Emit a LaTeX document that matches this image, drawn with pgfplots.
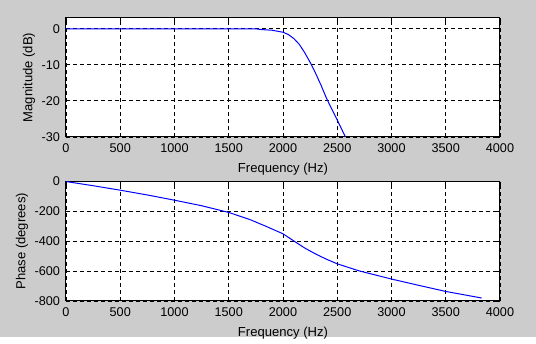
\documentclass[border=0pt]{standalone}
\usepackage{fontspec}
\setmainfont{Liberation Sans}
\usepackage{pgfplots}
\pgfplotsset{compat=1.18}
\definecolor{figbg}{RGB}{204,204,204}
\definecolor{mblue}{RGB}{0,0,255}
\pgfplotsset{
  mstyle/.style={
    scale only axis,
    width=325.5pt,
    xmin=0, xmax=4000,
    xtick={0,500,...,4000},
    axis background/.style={fill=white},
    axis line style={black, line width=0.75pt},
    grid=major,
    major grid style={black, line width=0.7pt, dash pattern=on 3pt off 2.25pt},
    tick align=inside,
    major tick length=3pt,
    tick style={black, line width=0.7pt},
    /pgf/number format/assume math mode=true,
    /pgf/number format/1000 sep={},
    tick label style={font=\fontsize{9.5}{10}\selectfont},
    label style={font=\fontsize{9.8}{11}\selectfont},
    xticklabel style={yshift=-1.5pt},
    yticklabel style={xshift=-1pt},
    xlabel style={yshift=-1pt},
    ylabel style={yshift=-2pt},
    clip=true,
  }
}
\begin{document}
\begin{tikzpicture}
\fill[figbg] (0pt,0pt) rectangle (402pt,252.75pt);
\begin{axis}[mstyle,
  at={(49.5pt,239.25pt)}, anchor=north west,
  height=89.25pt,
  ymin=-30, ymax=3,
  ytick={-30,-20,-10,0},
  xlabel={Frequency (Hz)},
  ylabel={Magnitude (dB)},
]
\addplot[mblue, line width=0.75pt] coordinates {
(0,0) (1000,0) (1750,0) (1800,-0.2) (1900,-0.4) (2000,-0.95) (2050,-1.6)
(2100,-2.7) (2150,-4.3) (2200,-6.6) (2250,-9.3) (2300,-12.3) (2350,-15.6)
(2400,-19.2) (2450,-22.3) (2500,-25.3) (2550,-28.4) (2600,-31.5) (2650,-34.6)
};
\end{axis}
\begin{axis}[mstyle,
  at={(49.5pt,116.6pt)}, anchor=north west,
  height=89.6pt,
  ymin=-800, ymax=0,
  ytick={-800,-600,-400,-200,0},
  xlabel={Frequency (Hz)},
  ylabel={Phase (degrees)},
]
\addplot[mblue, line width=0.75pt] coordinates {
(0,0) (250,-28) (500,-58) (750,-90) (1000,-125) (1250,-162) (1500,-207)
(1700,-256) (1850,-302) (2000,-350) (2100,-398) (2200,-445) (2300,-485)
(2400,-520) (2500,-551) (2700,-598) (3000,-653) (3250,-695) (3500,-736)
(3831,-780)
};
\end{axis}
\end{tikzpicture}
\end{document}
